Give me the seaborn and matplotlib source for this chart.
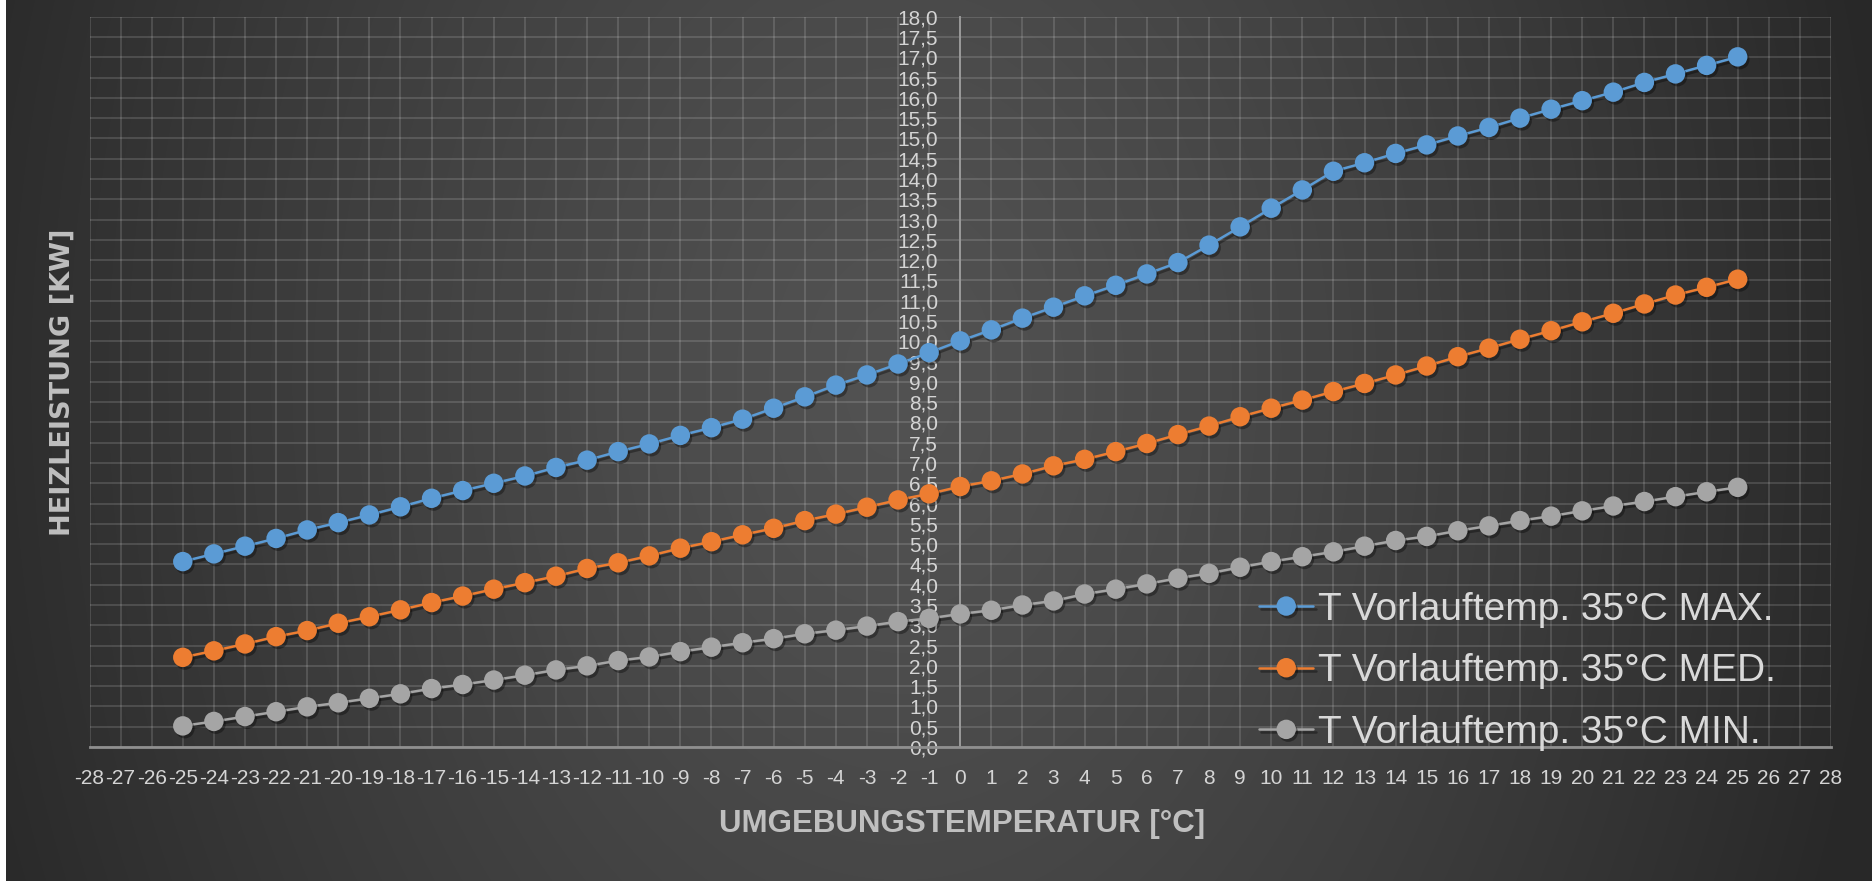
import numpy as np
import pandas as pd
import matplotlib
matplotlib.use("Agg")
import matplotlib.pyplot as plt
import matplotlib.patheffects as pe
from matplotlib.ticker import FuncFormatter
import seaborn as sns

# ---------------- data ----------------
temps = list(range(-25, 26))
max_vals = [4.57, 4.76, 4.95, 5.14, 5.35, 5.53, 5.72, 5.92, 6.13, 6.32,
            6.50, 6.68, 6.89, 7.07, 7.28, 7.47, 7.68, 7.87, 8.08, 8.35,
            8.63, 8.92, 9.17, 9.44, 9.72,
            10.01, 10.28, 10.57, 10.84, 11.12, 11.38, 11.66, 11.94, 12.37, 12.82,
            13.28, 13.73, 14.19, 14.40, 14.63, 14.84, 15.06, 15.27, 15.50, 15.72,
            15.93, 16.14, 16.38, 16.59, 16.80, 17.01]
med_vals = [2.21, 2.37, 2.54, 2.72, 2.87, 3.05, 3.21, 3.38, 3.56, 3.72,
            3.89, 4.05, 4.21, 4.40, 4.54, 4.71, 4.90, 5.06, 5.23, 5.39,
            5.58, 5.74, 5.91, 6.09, 6.24,
            6.42, 6.56, 6.73, 6.93, 7.09, 7.28, 7.48, 7.70, 7.91, 8.14,
            8.35, 8.55, 8.76, 8.96, 9.17, 9.39, 9.62, 9.83, 10.05, 10.26,
            10.48, 10.69, 10.92, 11.14, 11.33, 11.53]
min_vals = [0.52, 0.63, 0.75, 0.87, 0.99, 1.09, 1.20, 1.31, 1.44, 1.54,
            1.65, 1.77, 1.90, 2.00, 2.13, 2.22, 2.35, 2.46, 2.57, 2.67,
            2.79, 2.88, 2.98, 3.09, 3.17,
            3.28, 3.37, 3.50, 3.60, 3.77, 3.89, 4.02, 4.16, 4.28, 4.43,
            4.57, 4.69, 4.81, 4.95, 5.09, 5.19, 5.33, 5.45, 5.58, 5.69,
            5.82, 5.94, 6.05, 6.17, 6.29, 6.40]
series_names = ["T Vorlauftemp. 35°C MAX.",
                "T Vorlauftemp. 35°C MED.",
                "T Vorlauftemp. 35°C MIN."]
series_colors = ["#5B9BD5", "#ED7D31", "#A5A5A5"]
x_ticks = list(range(-28, 29))
y_ticks = [i * 0.5 for i in range(0, 37)]
x_title = "UMGEBUNGSTEMPERATUR [°C]"
y_title = "HEIZLEISTUNG [KW]"

# ---------------- style ----------------
sns.set_theme(style="white")
plt.rcParams["font.family"] = ["Liberation Sans", "DejaVu Sans"]

W, H = 1872, 881
fig = plt.figure(figsize=(W / 100, H / 100), dpi=100)

# background gradient
bg = fig.add_axes([0, 0, 1, 1], zorder=-10)
yy, xx = np.mgrid[0:H, 0:W]
r = np.sqrt(((xx - 900) / 1000.0) ** 2 + ((yy - 380) / 1400.0) ** 2)
r = np.clip(r, 0, 1)
lum = (82 - 42 * r ** 1.3) / 255.0
img = np.dstack([lum, lum, lum])
img[:, :6, :] = 1.0
bg.imshow(img, aspect="auto", interpolation="bilinear")
bg.axis("off")


class Shadow(pe.AbstractPathEffect):
    def __init__(self, offset=(2, -2), alpha=0.35):
        super().__init__(offset)
        self.alpha = alpha

    def draw_path(self, renderer, gc, tpath, affine, rgbFace=None):
        gc0 = renderer.new_gc()
        gc0.copy_properties(gc)
        gc0.set_foreground("black")
        gc0.set_alpha(self.alpha)
        face = (0, 0, 0) if rgbFace is not None else None
        renderer.draw_path(gc0, tpath, affine + self._offset_transform(renderer), face)
        gc0.restore()


ax = fig.add_axes([89.5 / W, (H - 747) / H, (1831 - 89.5) / W, (747 - 16.7) / H])
ax.set_facecolor("none")

for vals, name, col in zip([max_vals, med_vals, min_vals], series_names, series_colors):
    sns.lineplot(x=temps, y=vals, color=col, marker="o", markersize=14,
                 markeredgewidth=0, linewidth=1.8, label=name, ax=ax,
                 path_effects=[Shadow(offset=(1.5, -2), alpha=0.35), pe.Normal()],
                 zorder=5)

ax.set_xlim(-28, 28)
ax.set_ylim(0, 18)
ax.set_xticks(x_ticks)
ax.set_yticks(y_ticks)
ax.yaxis.set_major_formatter(FuncFormatter(lambda v, p: f"{v:.1f}".replace(".", ",")))
ax.xaxis.set_major_formatter(FuncFormatter(lambda v, p: f"{int(round(v))}"))
ax.grid(True, color="white", alpha=0.15, linewidth=1.3)

for s in ["top", "right"]:
    ax.spines[s].set_visible(False)
ax.spines["left"].set_position(("data", 0))
ax.spines["left"].set_color("#9a9a9a")
ax.spines["left"].set_linewidth(1.4)
ax.spines["bottom"].set_color("#8f8f8f")
ax.spines["bottom"].set_linewidth(2.0)

ax.tick_params(axis="both", length=0, labelsize=15, labelcolor="#d4d4d4")
ax.tick_params(axis="y", pad=16)
ax.tick_params(axis="x", pad=16)

ax.set_xlabel(x_title, fontsize=22.5, fontweight="bold", color="#bfbfbf")
ax.xaxis.set_label_coords((962 - 89.5) / (1831 - 89.5), -(824 - 747) / (747 - 16.7))
ax.xaxis.label.set_va("center")
ax.set_ylabel(y_title, fontsize=19.5, fontweight="bold", color="#bfbfbf",
              family=["DejaVu Sans"])
ax.yaxis.set_label_coords((63 - 89.5) / (1831 - 89.5), 0.5)
ax.yaxis.label.set_va("center")

leg = ax.legend(loc="lower right", bbox_to_anchor=(1776 / W, (H - 751) / H),
                bbox_transform=fig.transFigure, frameon=False, fontsize=28,
                handlelength=1.4, handletextpad=0.12, labelspacing=0.66,
                borderpad=0, borderaxespad=0)
for t in leg.get_texts():
    t.set_color("#d9d9d9")

fig.savefig("out.png", dpi=100)
